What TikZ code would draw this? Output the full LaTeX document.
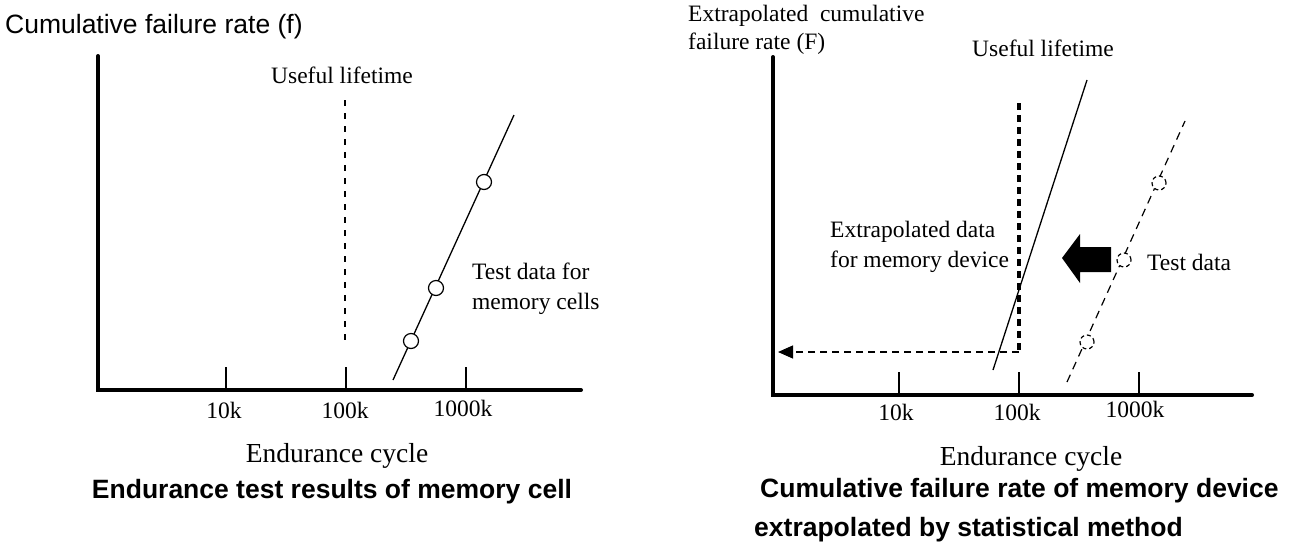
\documentclass[tikz,border=0pt]{standalone}
\usepackage{fontspec}
\setmainfont{Liberation Serif}
\setsansfont{Liberation Sans}
\usetikzlibrary{arrows.meta}

\begin{document}
\begin{tikzpicture}[x=1pt,y=-1pt,>=stealth,
  axisline/.style={line width=4pt,line cap=round,line join=miter},
  tickline/.style={line width=1.2pt},
  fitline/.style={line width=1.3pt},
  thindash/.style={line width=1.2pt,dash pattern=on 7pt off 5pt},
  lbl/.style={inner sep=0pt,align=left,font=\fontsize{23.5}{30}\selectfont},
  axlbl/.style={inner sep=0pt,font=\fontsize{27.5}{33}\selectfont},
  sflbl/.style={inner sep=0pt,font=\sffamily\fontsize{26.5}{32}\selectfont},
  sfttl/.style={inner sep=0pt,font=\sffamily\bfseries\fontsize{26.5}{32}\selectfont},
  cellpt/.style={circle,draw,fill=white,line width=1.2pt,minimum size=15pt,inner sep=0pt},
  devpt/.style={cellpt,minimum size=14pt,dash pattern=on 4pt off 3pt}]
  \useasboundingbox (0,0) rectangle (1289,547);

  % left: test results of memory cell
  \node[sflbl,anchor=base west] (ylabL) at (5,33) {Cumulative failure rate (f)};
  \draw[axisline] (98,56) -- (98,390) -- (581,390);
  \foreach \x in {226,346,466} \draw[tickline] (\x,367) -- (\x,390);
  \node[lbl,anchor=base] (t10kL) at (224,418) {10k};
  \node[lbl,anchor=base] (t100kL) at (345,418) {100k};
  \node[lbl,anchor=base] (t1000kL) at (463,416) {1000k};
  \node[axlbl,anchor=base] (xlabL) at (337,462) {Endurance cycle};
  \node[sfttl,anchor=base] (ttlL) at (332,498) {Endurance test results of memory cell};
  \node[lbl,anchor=base] (lifeL) at (342,83) {Useful lifetime};
  \draw[line width=1.2pt,dash pattern=on 6pt off 7pt] (345,100) -- (345,345);
  \coordinate (cellA) at (393,380);
  \coordinate (cellB) at (514,115);
  \draw[fitline] (cellA) -- (cellB);
  \node[cellpt] (c1) at (411,341) {};
  \node[cellpt] (c2) at (436,288) {};
  \node[cellpt] (c3) at (484,182) {};
  \node[lbl,anchor=base west] (cellsL) at (472,309) {Test data for\\memory cells};

  % right: extrapolated to memory device
  \node[lbl,anchor=base west,font=\fontsize{23.5}{28}\selectfont] (ylabR) at (688,49)
    {Extrapolated\ \ cumulative\\failure rate (F)};
  \draw[axisline] (773,57) -- (773,395) -- (1252,395);
  \foreach \x in {899,1019,1139} \draw[tickline] (\x,372) -- (\x,395);
  \node[lbl,anchor=base] (t10kR) at (896,420) {10k};
  \node[lbl,anchor=base] (t100kR) at (1017,420) {100k};
  \node[lbl,anchor=base] (t1000kR) at (1135,417) {1000k};
  \node[axlbl,anchor=base] (xlabR) at (1031,465) {Endurance cycle};
  \node[sfttl,anchor=base west] (ttlR) at (760,497) {Cumulative failure rate of memory device};
  \node[sfttl,anchor=base west] (ttlR2) at (754,536) {extrapolated by statistical method};
  \node[lbl,anchor=base] (lifeR) at (1043,56) {Useful lifetime};
  \coordinate (lifetop) at (1019,103);
  \coordinate (lifebot) at (1019,352);
  \coordinate (yhit) at (778,352);
  \draw[line width=3.5pt,dash pattern=on 7pt off 5pt] (lifetop) -- (lifebot);
  \draw[thindash,-{Triangle[length=15pt,width=13pt]}] (lifebot) -- (yhit);
  \coordinate (devA) at (993,370);
  \coordinate (devB) at (1087,80);
  \draw[fitline] (devA) -- (devB);
  \coordinate (testA) at (1067,382);
  \coordinate (testB) at (1185,121);
  \draw[thindash,dash pattern=on 8pt off 6pt] (testA) -- (testB);
  \node[devpt] (d1) at (1087,342) {};
  \node[devpt] (d2) at (1124,260) {};
  \node[devpt] (d3) at (1159,183) {};
  \fill (1062,258) -- (1080,234) -- (1080,247) -- (1111,247) -- (1111,272)
    -- (1080,272) -- (1080,283) -- cycle;
  \node[lbl,anchor=base west] (devL) at (830,267) {Extrapolated data\\for memory device};
  \node[lbl,anchor=base west] (testL) at (1147,270) {Test data};
\end{tikzpicture}
\end{document}
